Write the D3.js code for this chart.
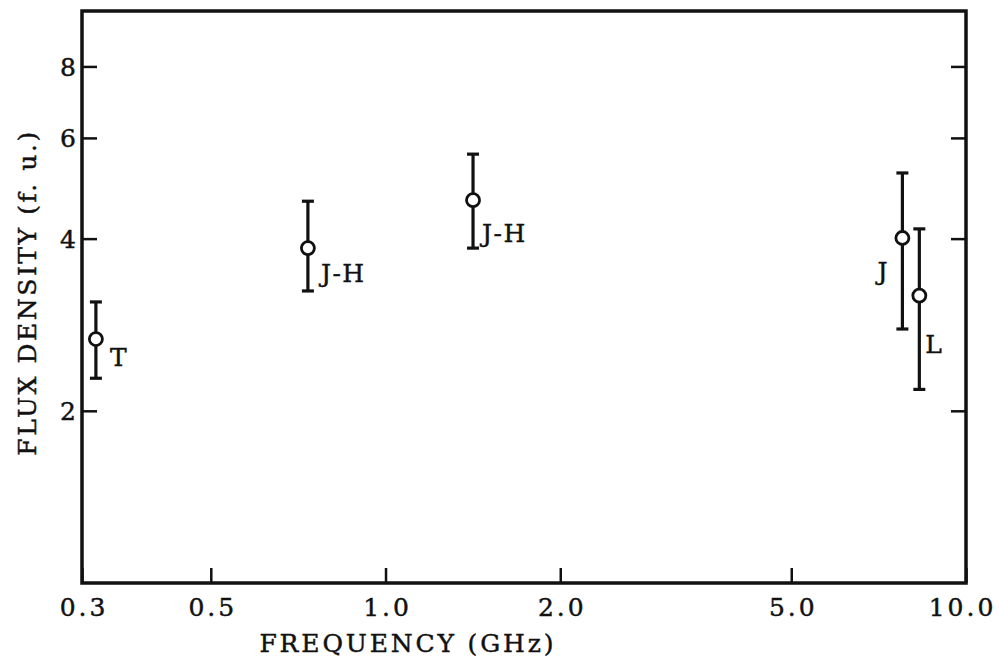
<!DOCTYPE html>
<html>
<head>
<meta charset="utf-8">
<script src="https://cdn.jsdelivr.net/npm/d3@7"></script>
<style>
  body { margin: 0; background: #fff; }
  svg text { font-family: "DejaVu Serif", "Liberation Serif", serif; fill: #111; stroke: #111; stroke-width: 0.45px; }
</style>
</head>
<body>
<svg id="chart" width="999" height="667"></svg>
<script>
const labels   = ["T", "J-H", "J-H", "J", "L"];
const freqGHz  = [0.317, 0.735, 1.415, 7.77, 8.31];
const flux     = [2.67, 3.85, 4.67, 4.01, 3.18];
const fluxHigh = [3.10, 4.65, 5.62, 5.21, 4.16];
const fluxLow  = [2.28, 3.24, 3.85, 2.78, 2.18];

const xTicks = [0.3, 0.5, 1.0, 2.0, 5.0, 10.0];
const yTicks = [2, 4, 6, 8];

// label placement relative to each marker (pixels)
const labelDx = [14, 13, 9, -25, 6];
const labelDy = [27, 34, 42, 42, 57];

const svg = d3.select("#chart");
const plot = { left: 82, right: 966, top: 11, bottom: 583 };
const fontSize = 25;

const x = d3.scaleLog().domain([0.3, 10]).range([plot.left, plot.right]);
const y = d3.scaleLog().domain([1, 10]).range([plot.bottom, plot.top]);

// spread text so its ink spans a given width (old typewriter-ish spacing)
function fitWidth(sel, width) {
  sel.each(function() {
    const n = this.textContent.length;
    const w = this.getComputedTextLength();
    const ls = Math.max(0, (width - w) / Math.max(1, n - 1));
    d3.select(this).attr("letter-spacing", ls).attr("dx", ls / 2);
  });
}

// axes: inward ticks, no domain line (frame drawn separately)
const xAxis = d3.axisBottom(x).tickValues(xTicks).tickFormat(d3.format(".1f"))
                .tickSizeInner(-15).tickSizeOuter(0).tickPadding(15);
const yAxis = d3.axisLeft(y).tickValues(yTicks).tickFormat(d3.format("d"))
                .tickSizeInner(-15).tickSizeOuter(0).tickPadding(6);
const yAxisR = d3.axisRight(y).tickValues(yTicks).tickFormat("")
                .tickSizeInner(-15).tickSizeOuter(0);

const gx = svg.append("g").attr("transform", `translate(0,${plot.bottom})`).call(xAxis);
const gy = svg.append("g").attr("transform", `translate(${plot.left},0)`).call(yAxis);
const gyr = svg.append("g").attr("transform", `translate(${plot.right},0)`).call(yAxisR);

[gx, gy, gyr].forEach(g => {
  g.select(".domain").remove();
  g.selectAll(".tick line").attr("stroke", "#111").attr("stroke-width", 2.5);
  g.selectAll(".tick text").attr("font-size", fontSize).attr("fill", "#111")
   .attr("font-family", "DejaVu Serif");
});
gx.selectAll(".tick text").attr("letter-spacing", 3).attr("dx", 1.5);
gx.selectAll(".tick text").filter(d => d === 10).attr("dx", -4);
gy.selectAll(".tick text").attr("dy", "0.36em");

// frame
svg.append("rect")
   .attr("x", plot.left).attr("y", plot.top)
   .attr("width", plot.right - plot.left).attr("height", plot.bottom - plot.top)
   .attr("fill", "none").attr("stroke", "#111").attr("stroke-width", 3.5);

// error bars
const pts = svg.append("g");
const capW = 12;
freqGHz.forEach((f, i) => {
  const cx = x(f);
  const g = pts.append("g").attr("stroke", "#111").attr("stroke-width", 3.2);
  g.append("line").attr("x1", cx).attr("x2", cx).attr("y1", y(fluxHigh[i])).attr("y2", y(fluxLow[i]));
  g.append("line").attr("x1", cx - capW / 2).attr("x2", cx + capW / 2)
   .attr("y1", y(fluxHigh[i])).attr("y2", y(fluxHigh[i]));
  g.append("line").attr("x1", cx - capW / 2).attr("x2", cx + capW / 2)
   .attr("y1", y(fluxLow[i])).attr("y2", y(fluxLow[i]));
  g.append("circle").attr("cx", cx).attr("cy", y(flux[i])).attr("r", 6.5)
   .attr("fill", "#fff").attr("stroke-width", 2.8);
  pts.append("text")
     .attr("x", cx + labelDx[i]).attr("y", y(flux[i]) + labelDy[i])
     .attr("font-size", fontSize).attr("letter-spacing", 1.5)
     .text(labels[i]);
});

// axis titles
svg.append("text")
   .attr("x", 258).attr("y", 652)
   .attr("font-size", fontSize)
   .text("FREQUENCY (GHz)")
   .call(fitWidth, 294);

svg.append("text")
   .attr("transform", "translate(36,457) rotate(-90)")
   .attr("font-size", fontSize)
   .text("FLUX DENSITY (f. u.)")
   .call(fitWidth, 324);
</script>
</body>
</html>
